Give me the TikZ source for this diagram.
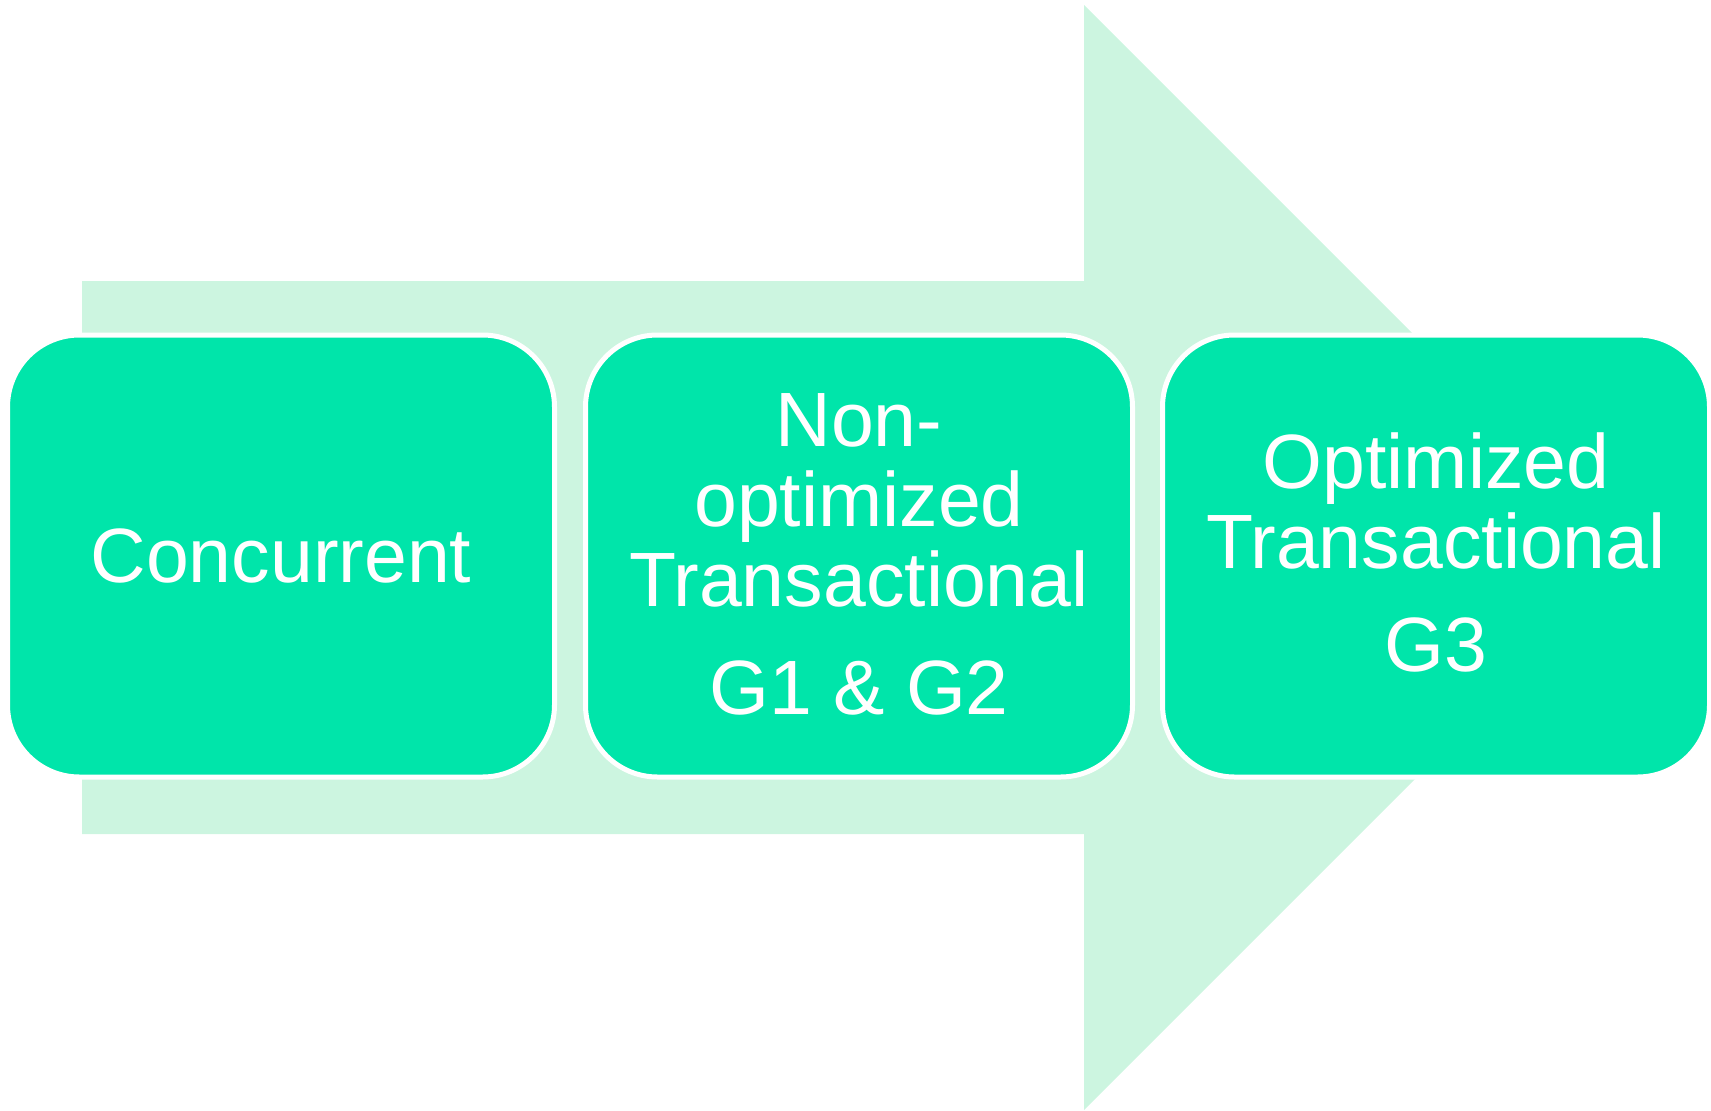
\documentclass[tikz,border=0pt]{standalone}
\usepackage{fontspec}
\setmainfont{Liberation Sans}
\definecolor{stagegreen}{RGB}{0,229,170}
\definecolor{flowmint}{RGB}{204,245,224}
% invisible strut that deepens the last line of a label
\newcommand{\labeldepth}[1]{\rule[-#1]{0pt}{#1}}
\begin{document}
\begin{tikzpicture}[x=1pt,y=-1pt,
  stagebox/.style={draw=white, line width=5pt, fill=stagegreen,
    rounded corners=72pt, minimum width=547pt, minimum height=442pt,
    inner sep=0pt, align=center, text=white,
    font=\fontsize{77}{80}\selectfont}]
  \useasboundingbox (0,0) rectangle (1711,1111);
  % background flow arrow
  \fill[flowmint] (82,281) -- (1084,281) -- (1084,5) -- (1636.5,557.5)
    -- (1084,1110) -- (1084,834) -- (82,834) -- cycle;
  % the three stages
  \node[stagebox] (concurrent) at (281,556) {Concurrent};
  \node[stagebox] (nonopt) at (859,556)
    {Non-\\optimized\\Transactional\\[28pt]G1 \& G2\labeldepth{3pt}};
  \node[stagebox] (opt) at (1436,556)
    {Optimized\\Transactional\\[23pt]G3\labeldepth{8pt}};
\end{tikzpicture}
\end{document}
